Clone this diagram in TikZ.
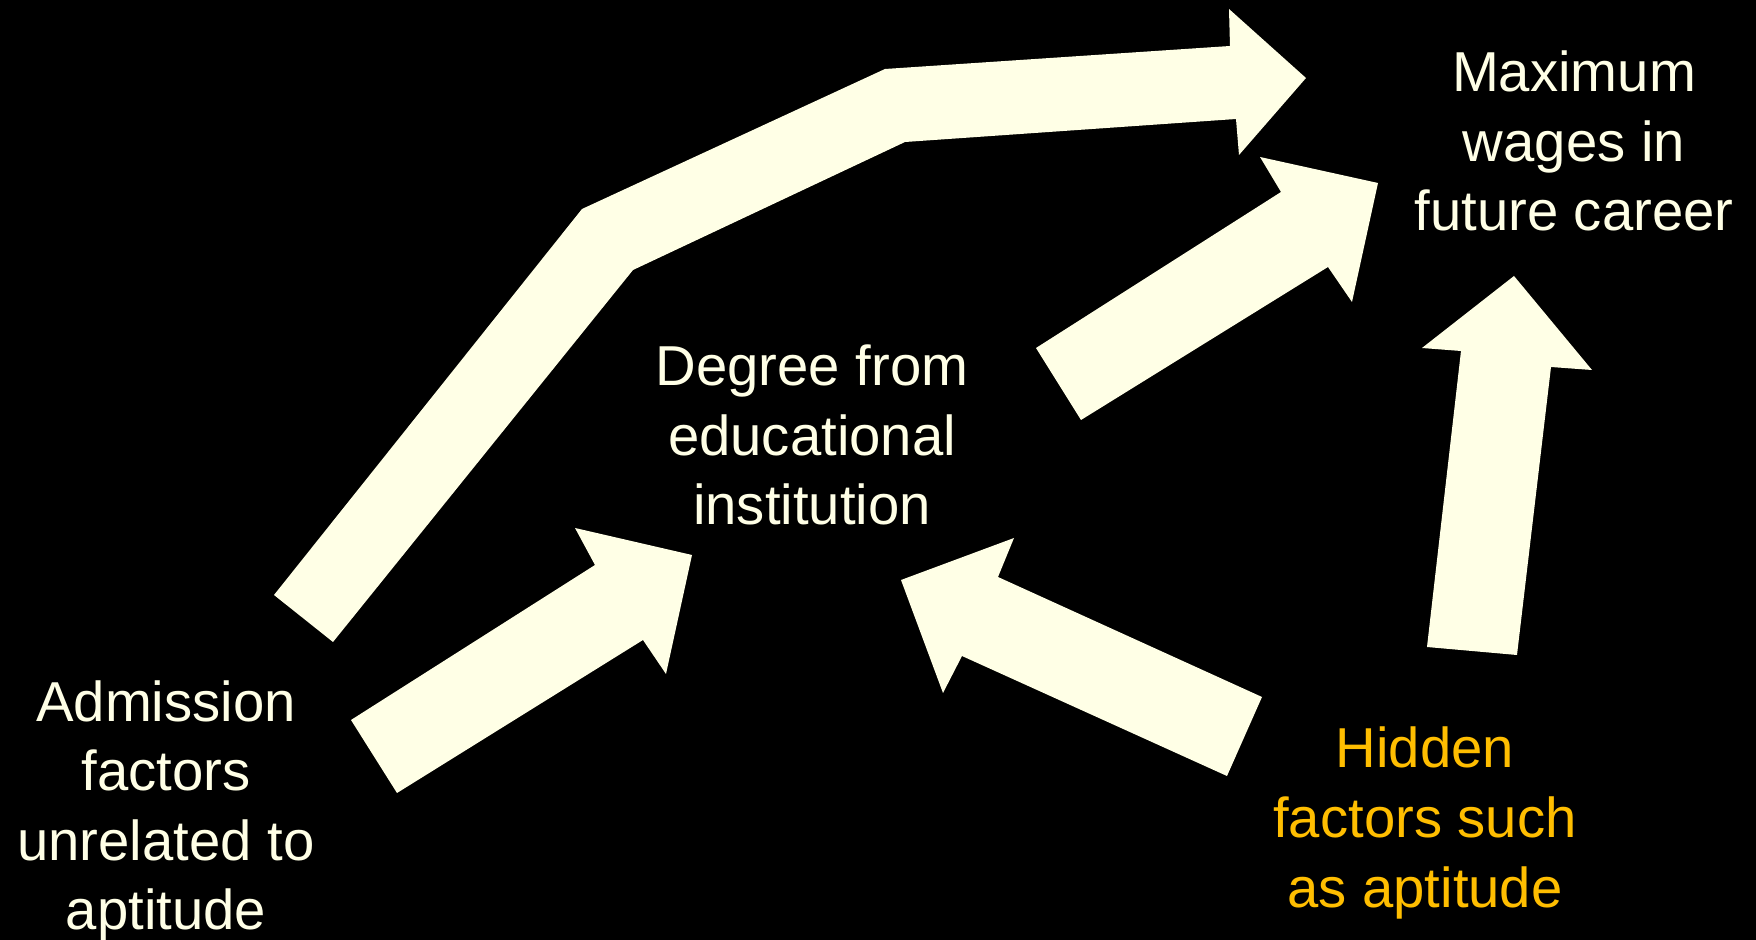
\documentclass[tikz,border=0pt]{standalone}
\usepackage{fontspec}
\setmainfont{Liberation Sans}

\definecolor{cream}{RGB}{255,255,230}
\definecolor{gold}{RGB}{255,190,0}

\tikzset{
	factor/.style={text=cream, align=center, inner sep=0pt, font=\fontsize{16}{19.8}\selectfont},
	hidden/.style={factor, text=gold},
	blockarrow/.style={fill=cream, draw=none},
}

\begin{document}
\begin{tikzpicture}[x=0.01cm, y=-0.01cm]
	% background, fixes the size of the page
	\useasboundingbox (0,0) rectangle (1756,940);
	\fill[black] (0,0) rectangle (1756,940);

	% texts
	\node[factor] (wages)     at (1574,141) {Maximum\\wages in\\future career};
	\node[factor] (degree)    at (812,435)  {Degree from\\educational\\institution};
	\node[factor] (admission) at (166,811)  {Admission\\factors\\unrelated to\\aptitude};
	\node[hidden] (aptitude)  at (1425,823) {Hidden\\factors such\\as aptitude};

	% long bent arrow: admission -> wages
	\coordinate (a1) at (274,595);		% tail, outer
	\coordinate (a2) at (582,209);		% first bend, outer
	\coordinate (a3) at (885,69);		% second bend, outer
	\coordinate (a4) at (1230,46);		% shaft end, upper
	\coordinate (a5) at (1229,9);		% barb, upper
	\coordinate (a6) at (1306,78);		% tip
	\coordinate (a7) at (1239,155);		% barb, lower
	\coordinate (a8) at (1236,119);		% shaft end, lower
	\coordinate (a9) at (905,142);		% second bend, inner
	\coordinate (a10) at (633,270);		% first bend, inner
	\coordinate (a11) at (333,642);		% tail, inner
	\fill[blockarrow] (a1) -- (a2) -- (a3) -- (a4) -- (a5) -- (a6) -- (a7) -- (a8) -- (a9) -- (a10) -- (a11) -- cycle;

	% degree -> wages
	\coordinate (b1) at (1036,348);
	\coordinate (b2) at (1281,192);
	\coordinate (b3) at (1260,157);
	\coordinate (b4) at (1378,183);
	\coordinate (b5) at (1352,302);
	\coordinate (b6) at (1328,267);
	\coordinate (b7) at (1081,420);
	\fill[blockarrow] (b1) -- (b2) -- (b3) -- (b4) -- (b5) -- (b6) -- (b7) -- cycle;

	% aptitude -> wages
	\coordinate (c1) at (1427,647);
	\coordinate (c2) at (1461,351);
	\coordinate (c3) at (1422,348);
	\coordinate (c4) at (1514,276);
	\coordinate (c5) at (1592,370);
	\coordinate (c6) at (1551,367);
	\coordinate (c7) at (1517,655);
	\fill[blockarrow] (c1) -- (c2) -- (c3) -- (c4) -- (c5) -- (c6) -- (c7) -- cycle;

	% admission -> degree
	\coordinate (d1) at (351,720);
	\coordinate (d2) at (595,565);
	\coordinate (d3) at (575,528);
	\coordinate (d4) at (692,555);
	\coordinate (d5) at (666,674);
	\coordinate (d6) at (643,640);
	\coordinate (d7) at (397,793);
	\fill[blockarrow] (d1) -- (d2) -- (d3) -- (d4) -- (d5) -- (d6) -- (d7) -- cycle;

	% aptitude -> degree
	\coordinate (e1) at (1262,697);
	\coordinate (e2) at (998,577);
	\coordinate (e3) at (1014,538);
	\coordinate (e4) at (901,580);
	\coordinate (e5) at (943,693);
	\coordinate (e6) at (962,656);
	\coordinate (e7) at (1227,776);
	\fill[blockarrow] (e1) -- (e2) -- (e3) -- (e4) -- (e5) -- (e6) -- (e7) -- cycle;
\end{tikzpicture}
\end{document}
